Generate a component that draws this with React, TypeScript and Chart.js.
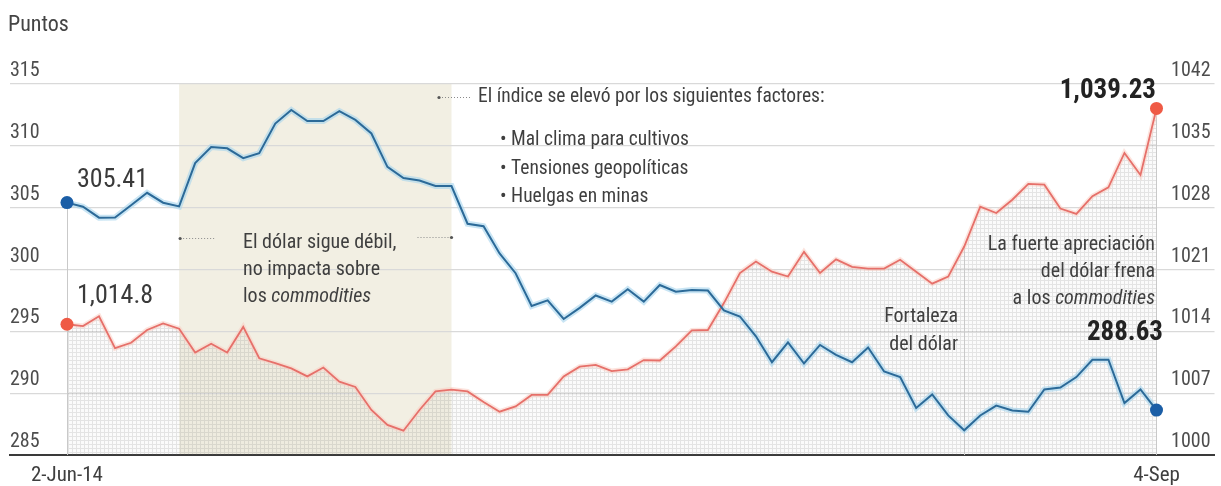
import React, { useEffect, useRef } from 'react';
import { Chart, registerables } from 'chart.js';

Chart.register(...registerables);

// ---- data ----
const commodityIndex = [
  305.41, 305.08, 304.19, 304.2, 305.2, 306.2, 305.4, 305.1, 308.6, 309.9,
  309.8, 309.0, 309.4, 311.8, 312.9, 312.0, 312.0, 312.8, 312.1, 311.0,
  308.3, 307.4, 307.2, 306.75, 306.75, 303.7, 303.5, 301.3, 299.7, 297.05,
  297.5, 296.0, 296.9, 297.9, 297.4, 298.4, 297.4, 298.75, 298.2, 298.35,
  298.3, 296.7, 296.2, 294.6, 292.5, 294.1, 292.4, 293.9, 293.1, 292.5,
  293.7, 291.75, 291.3, 288.8, 289.9, 288.2, 287.0, 288.2, 289.0, 288.6,
  288.5, 290.3, 290.45, 291.3, 292.7, 292.7, 289.2, 290.3, 288.63,
];
const dollarIndex = [
  1014.8, 1014.6, 1015.7, 1012.1, 1012.7, 1014.15, 1014.9, 1014.3, 1011.6, 1012.6,
  1011.6, 1014.5, 1010.95, 1010.4, 1009.8, 1008.9, 1009.9, 1008.3, 1007.7, 1005.1,
  1003.4, 1002.75, 1005.1, 1007.2, 1007.4, 1007.2, 1006.0, 1004.9, 1005.5, 1006.8,
  1006.8, 1008.9, 1010.0, 1010.2, 1009.5, 1009.7, 1010.75, 1010.7, 1012.3, 1014.1,
  1014.15, 1017.2, 1020.6, 1021.9, 1020.75, 1020.2, 1023.0, 1020.6, 1022.15, 1021.3,
  1021.1, 1021.1, 1022.1, 1020.75, 1019.4, 1020.2, 1023.6, 1028.1, 1027.4, 1028.9,
  1030.7, 1030.6, 1027.9, 1027.3, 1029.3, 1030.3, 1034.2, 1031.7, 1039.23,
];
const xTickPositions = [0, 68];
const xTickLabels = ['2-Jun-14', '4-Sep'];
const leftAxisRange = [285, 315, 5];
const rightAxisRange = [1000, 1042, 7];
const weakDollarPeriod = [7, 24];
const strongDollarStart = 56;

const yAxisTitle = 'Puntos';
const riseTitle = 'El índice se elevó por los siguientes factores:';
const riseFactors = ['Mal clima para cultivos', 'Tensiones geopolíticas', 'Huelgas en minas'];
const noteWeak: [string, boolean][][] = [
  [['El dólar sigue débil,', false]],
  [['no impacta sobre', false]],
  [['los ', false], ['commodities', true]],
];
const noteStrong = ['Fortaleza', 'del dólar'];
const noteBrake: [string, boolean][][] = [
  [['La fuerte apreciación', false]],
  [['del dólar frena', false]],
  [['a los ', false], ['commodities', true]],
];

// ---- font handling ----
let FAMILY = 'Roboto';
let SQ = 1;

function pickFont() {
  const c = document.createElement('canvas').getContext('2d')!;
  const s = riseTitle;
  const w = (f: string) => { c.font = `19.5px ${f}`; return c.measureText(s).width; };
  const mono = w('monospace');
  const serif = w('serif');
  const cands = ['Liberation Sans Narrow', 'Roboto Condensed', 'Arial Narrow', 'DejaVu Sans Condensed'];
  let fam = 'Roboto';
  for (const f of cands) {
    if (w(`"${f}", monospace`) !== mono && w(`"${f}", serif`) !== serif) { fam = `"${f}"`; break; }
  }
  FAMILY = fam;
  const width = w(fam);
  SQ = Math.min(1, 355 / width);
}

function drawRuns(
  ctx: CanvasRenderingContext2D,
  runs: [string, boolean][],
  x: number, y: number, size: number,
  align: 'left' | 'right' | 'center' = 'left',
  color = '#3f3f3f',
  weight = 'normal',
) {
  ctx.save();
  const fonts = runs.map(([, it]) => `${it ? 'italic ' : ''}${weight} ${size}px ${FAMILY}`);
  const widths = runs.map(([s], i) => { ctx.font = fonts[i]; return ctx.measureText(s).width; });
  const total = widths.reduce((a, b) => a + b, 0);
  ctx.translate(x, y);
  ctx.scale(SQ, 1);
  let cx = align === 'right' ? -total : align === 'center' ? -total / 2 : 0;
  ctx.textAlign = 'left';
  ctx.textBaseline = 'alphabetic';
  ctx.fillStyle = color;
  runs.forEach(([s], i) => { ctx.font = fonts[i]; ctx.fillText(s, cx, 0); cx += widths[i]; });
  ctx.restore();
}

function txt(ctx: CanvasRenderingContext2D, s: string, x: number, y: number, size: number,
  align: 'left' | 'right' | 'center' = 'left', color = '#3f3f3f', weight = 'normal') {
  drawRuns(ctx, [[s, false]], x, y, size, align, color, weight);
}

function leader(ctx: CanvasRenderingContext2D, xDot: number, xEnd: number, y: number) {
  ctx.save();
  ctx.strokeStyle = '#8a8a8a';
  ctx.lineWidth = 1;
  ctx.setLineDash([1, 2]);
  ctx.beginPath();
  ctx.moveTo(xDot, y + 0.5);
  ctx.lineTo(xEnd, y + 0.5);
  ctx.stroke();
  ctx.setLineDash([]);
  ctx.fillStyle = '#555';
  ctx.beginPath();
  ctx.arc(xDot, y + 0.5, 1.6, 0, Math.PI * 2);
  ctx.fill();
  ctx.restore();
}

function makePattern(ctx: CanvasRenderingContext2D) {
  const c = document.createElement('canvas');
  c.width = 4; c.height = 4;
  const g = c.getContext('2d')!;
  g.fillStyle = 'rgba(120,130,140,0.03)';
  g.fillRect(0, 0, 4, 4);
  g.fillStyle = 'rgba(110,110,110,0.17)';
  g.fillRect(0, 0, 4, 1);
  g.fillRect(0, 1, 1, 3);
  return ctx.createPattern(c, 'repeat')!;
}

const fmt = (v: number) => v.toLocaleString('en-US', { maximumFractionDigits: 2 });

const overlayPlugin = {
  id: 'overlay',
  beforeDraw(chart: any) {
    const { ctx, chartArea: ca, scales: { x } } = chart;
    const x0 = x.getPixelForValue(weakDollarPeriod[0]);
    const x1 = x.getPixelForValue(weakDollarPeriod[1]);
    ctx.save();
    ctx.fillStyle = '#f2efe3';
    ctx.fillRect(x0, ca.top, x1 - x0, ca.bottom - ca.top);
    ctx.restore();
  },
  beforeDatasetsDraw(chart: any) {
    const { ctx, chartArea: ca, scales: { x, y, y2 } } = chart;
    const last = commodityIndex.length - 1;
    const lines: [number, number][] = [
      [0, y.getPixelForValue(commodityIndex[0])],
      [strongDollarStart, y2.getPixelForValue(dollarIndex[strongDollarStart])],
      [last, y2.getPixelForValue(dollarIndex[last])],
    ];
    ctx.save();
    ctx.strokeStyle = '#c9c9c9';
    ctx.lineWidth = 1;
    lines.forEach(([i, top]) => {
      const px = Math.round(x.getPixelForValue(i)) + 0.5;
      ctx.beginPath();
      ctx.moveTo(px, top);
      ctx.lineTo(px, ca.bottom);
      ctx.stroke();
    });
    ctx.restore();
  },
  afterDraw(chart: any) {
    const { ctx, chartArea: ca, scales: { x, y, y2 } } = chart;
    const last = commodityIndex.length - 1;
    // axis tick labels
    y.ticks.forEach((t: any) => txt(ctx, String(t.value), ca.left, y.getPixelForValue(t.value) - 8, 20, 'left', '#4d4d4d'));
    y2.ticks.forEach((t: any) => txt(ctx, String(t.value), ca.right - 4, y2.getPixelForValue(t.value) - 8, 20, 'right', '#4d4d4d'));
    x.ticks.forEach((t: any, i: number) => txt(ctx, xTickLabels[i], x.getPixelForValue(t.value), ca.bottom + 26, 21, 'center', '#3f3f3f'));
    // title
    txt(ctx, yAxisTitle, 8, 31, 22, 'left', '#444');
    // start / end values
    const bx0 = x.getPixelForValue(0);
    txt(ctx, fmt(commodityIndex[0]), bx0 + 10, y.getPixelForValue(commodityIndex[0]) - 16, 26, 'left', '#3a3a3a');
    txt(ctx, fmt(dollarIndex[0]), bx0 + 10, y2.getPixelForValue(dollarIndex[0]) - 21, 26, 'left', '#3a3a3a');
    txt(ctx, fmt(dollarIndex[last]), 1156, 98, 27, 'right', '#222', 'bold');
    txt(ctx, fmt(commodityIndex[last]), 1163, 340, 27, 'right', '#222', 'bold');
    // weak dollar note
    const bandL = x.getPixelForValue(weakDollarPeriod[0]);
    const bandR = x.getPixelForValue(weakDollarPeriod[1]);
    leader(ctx, bandL + 1, 215, 238);
    leader(ctx, bandR, 417, 237);
    noteWeak.forEach((runs, i) => drawRuns(ctx, runs, 243, 248 + i * 27, 20, 'left', '#3f3f3f'));
    // rise note
    leader(ctx, 439, 471, 97);
    txt(ctx, riseTitle, 478, 102, 19.5, 'left', '#3f3f3f');
    riseFactors.forEach((f, i) => txt(ctx, '• ' + f, 500, 145 + i * 28.5, 19.5, 'left', '#3f3f3f'));
    // strong dollar notes
    noteStrong.forEach((s, i) => txt(ctx, s, 958, 322 + i * 28, 20, 'right', '#3f3f3f'));
    noteBrake.forEach((runs, i) => drawRuns(ctx, runs, 1155, 250 + i * 27, 20, 'right', '#3f3f3f'));
  },
};

export default function App() {
  const ref = useRef<HTMLCanvasElement | null>(null);
  useEffect(() => {
    if (!ref.current) return;
    pickFont();
    const ctx = ref.current.getContext('2d')!;
    const last = commodityIndex.length - 1;
    const bluePts = commodityIndex.map((v, i) => ({ x: i, y: v }));
    const redPts = dollarIndex.map((v, i) => ({ x: i, y: v }));
    const endDot = (c: any) => (c.dataIndex === 0 || c.dataIndex === last ? 6.5 : 0);
    const chart = new Chart(ctx, {
      type: 'line',
      data: {
        datasets: [
          {
            data: bluePts, yAxisID: 'y', borderColor: '#2c6a98', borderWidth: 2,
            pointRadius: endDot, pointHoverRadius: endDot, pointBackgroundColor: '#1b5ea6',
            pointBorderWidth: 0, fill: false, tension: 0,
          },
          {
            data: redPts, yAxisID: 'y2', borderColor: '#e6706a', borderWidth: 1.8,
            pointRadius: endDot, pointHoverRadius: endDot, pointBackgroundColor: '#ef5a45',
            pointBorderWidth: 0, fill: 'start', backgroundColor: makePattern(ctx), tension: 0,
          },
          {
            data: bluePts, yAxisID: 'y', borderColor: 'rgba(165,212,236,0.6)', borderWidth: 6,
            pointRadius: 0, fill: false, tension: 0,
          },
          {
            data: redPts, yAxisID: 'y2', borderColor: 'rgba(250,205,195,0.55)', borderWidth: 5,
            pointRadius: 0, fill: false, tension: 0,
          },
        ],
      } as any,
      options: {
        responsive: true,
        maintainAspectRatio: false,
        animation: false,
        events: [],
        layout: { padding: { left: 10, right: 6, top: 84, bottom: 0 } },
        plugins: {
          legend: { display: false },
          tooltip: { enabled: false },
          filler: { drawTime: 'beforeDatasetsDraw' },
        } as any,
        scales: {
          x: {
            type: 'linear', min: -3.556, max: 71.62,
            grid: { display: false },
            border: { display: true, color: '#3a3a3a', width: 2 },
            ticks: { display: false, autoSkip: false, callback: (_v: any, i: number) => xTickLabels[i] },
            afterBuildTicks: (s: any) => { s.ticks = xTickPositions.map((v) => ({ value: v })); },
            afterFit: (s: any) => { s.height = 31; },
          },
          y: {
            position: 'left', min: leftAxisRange[0], max: leftAxisRange[1],
            ticks: { display: false, stepSize: leftAxisRange[2] },
            grid: { color: '#d9d9d9', lineWidth: 1.3, drawTicks: false },
            border: { display: false },
            afterFit: (s: any) => { s.width = 0; },
          },
          y2: {
            position: 'right', min: rightAxisRange[0], max: rightAxisRange[1],
            ticks: { display: false, stepSize: rightAxisRange[2] },
            grid: { display: false, drawTicks: false },
            border: { display: false },
            afterFit: (s: any) => { s.width = 0; },
          },
        } as any,
      },
      plugins: [overlayPlugin],
    });
    return () => chart.destroy();
  }, []);
  return (
    <div style={{ position: 'absolute', left: 0, top: 0, width: 1221, height: 486, background: '#fff' }}>
      <canvas ref={ref} />
    </div>
  );
}
